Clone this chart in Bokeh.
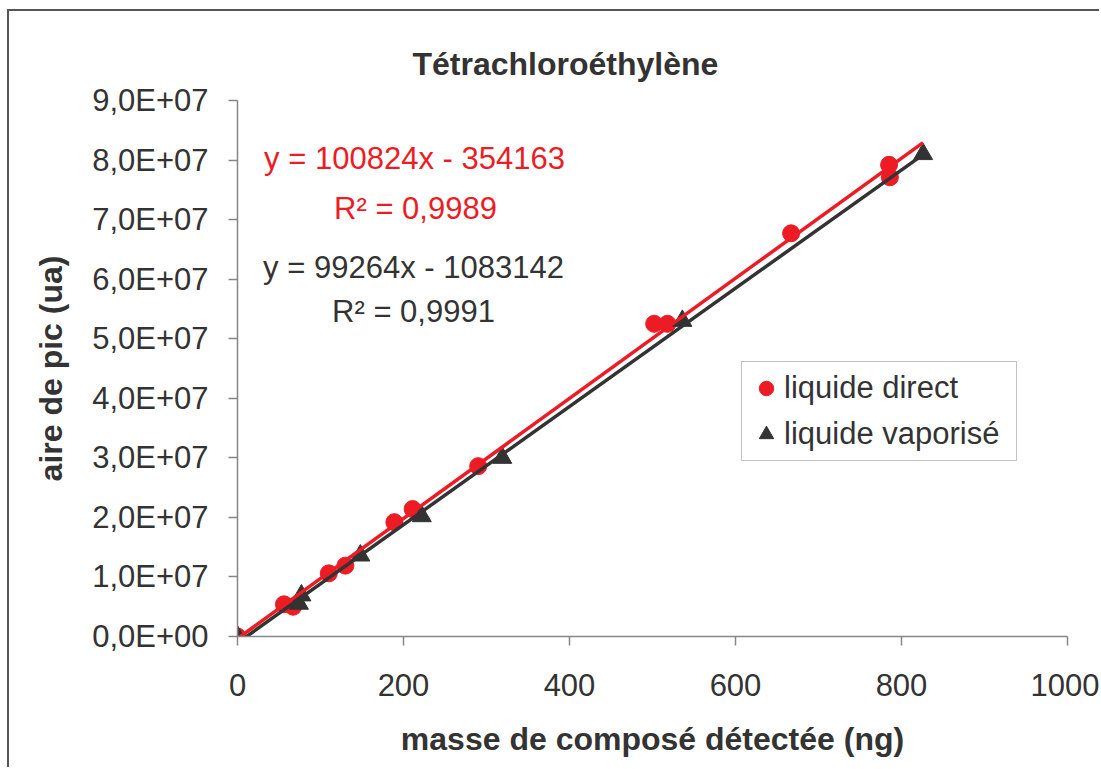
from bokeh.plotting import figure
from bokeh.models import Range1d, FixedTicker, Label, Legend, LegendItem
from bokeh.embed import file_html
from bokeh.resources import INLINE

# ---------------- data ----------------
title_text = "Tétrachloroéthylène"
x_label = "masse de composé détectée (ng)"
y_label = "aire de pic (ua)"

series_names = ["liquide direct", "liquide vaporisé"]

direct_x = [0, 56, 67, 110, 130, 189, 211, 290, 502, 518, 667, 785, 786]
direct_y = [0, 5.4e6, 5.0e6, 1.06e7, 1.19e7, 1.92e7, 2.14e7, 2.86e7, 5.25e7, 5.25e7, 6.77e7, 7.92e7, 7.71e7]

vapor_x = [0, 77, 74, 148, 222, 319, 536, 826]
vapor_y = [0, 6.9e6, 5.5e6, 1.36e7, 2.02e7, 3.0e7, 5.3e7, 8.1e7]

direct_slope = 100824
direct_intercept = -354163
direct_r2 = "0,9989"
vapor_slope = 99264
vapor_intercept = -1083142
vapor_r2 = "0,9991"

x_ticks = [0, 200, 400, 600, 800, 1000]
y_ticks = [0, 10000000, 20000000, 30000000, 40000000, 50000000,
           60000000, 70000000, 80000000, 90000000]
y_tick_labels = ["0,0E+00", "1,0E+07", "2,0E+07", "3,0E+07", "4,0E+07",
                 "5,0E+07", "6,0E+07", "7,0E+07", "8,0E+07", "9,0E+07"]

# ---------------- style ----------------
FONT = "Liberation Sans"
TXT = "#333333"
RED = "#ED1C24"
DARK = "#333333"
AXIS = "#868686"
FS = "31px"
FS_BOLD = "32px"

# canvas offset inside the page (outer chart border drawn with CSS)
OX, OY = 9, 11
W, H = 1101 - OX, 769 - OY

# pixel (page) -> data helpers for annotation positions
def px2x(px):
    return (px - 237) / 0.83

def px2y(py):
    return (636 - py) * 9e7 / 536

p = figure(width=W, height=H,
           x_range=Range1d(0, 1000), y_range=Range1d(0, 9e7),
           output_backend="svg", toolbar_location=None,
           min_border_left=237 - OX, min_border_right=W - (1067 - OX),
           min_border_top=100 - OY, min_border_bottom=H - (636 - OY))
p.styles = {"margin-left": "7px", "margin-top": "9px",
            "border-left": "2px solid #555555", "border-top": "2px solid #555555"}
p.outline_line_color = None
p.grid.visible = False
p.background_fill_color = "white"
p.border_fill_color = "white"

# title
p.title.text = title_text
p.title.align = "left"
p.title.offset = 175
p.title.standoff = 38
p.title.text_font = FONT
p.title.text_font_size = FS_BOLD
p.title.text_font_style = "bold"
p.title.text_color = TXT

# axes
for ax in (p.xaxis[0], p.yaxis[0]):
    ax.axis_line_color = AXIS
    ax.axis_line_width = 1.5
    ax.major_tick_line_color = AXIS
    ax.major_tick_line_width = 1.5
    ax.major_tick_in = 0
    ax.major_tick_out = 9
    ax.minor_tick_line_color = None
    ax.major_label_text_font = FONT
    ax.major_label_text_font_size = FS
    ax.major_label_text_color = TXT
    ax.axis_label_text_font = FONT
    ax.axis_label_text_font_size = FS_BOLD
    ax.axis_label_text_font_style = "bold"
    ax.axis_label_text_color = TXT

p.xaxis.ticker = FixedTicker(ticks=x_ticks)
p.xaxis.axis_label = x_label
p.xaxis.major_label_standoff = 28
p.xaxis.axis_label_standoff = 22

p.yaxis.ticker = FixedTicker(ticks=y_ticks)
p.yaxis.major_label_overrides = {t: l for t, l in zip(y_ticks, y_tick_labels)}
p.yaxis.axis_label = y_label
p.yaxis.major_label_standoff = 20
p.yaxis.axis_label_standoff = 20

# markers
r_direct = p.scatter(direct_x, direct_y, marker="circle", size=17,
                     fill_color=RED, line_color=RED)
r_vapor = p.scatter(vapor_x, vapor_y, marker="triangle", size=19,
                    fill_color=DARK, line_color=DARK)

# trend lines
x_end = max(max(direct_x), max(vapor_x))
line_x = [0, x_end]
p.line(line_x, [direct_slope * x + direct_intercept for x in line_x],
       line_color=RED, line_width=3.5)
p.line(line_x, [vapor_slope * x + vapor_intercept for x in line_x],
       line_color=DARK, line_width=3.5)

# equations
def eq(slope, intercept):
    sign = "-" if intercept < 0 else "+"
    return f"y = {slope}x {sign} {abs(intercept)}"

labels = [
    (eq(direct_slope, direct_intercept), 414, 158, RED),
    (f"R\u00b2 = {direct_r2}", 415, 208, RED),
    (eq(vapor_slope, vapor_intercept), 413, 267, TXT),
    (f"R\u00b2 = {vapor_r2}", 413, 311, TXT),
]
for text, px, py, col in labels:
    p.add_layout(Label(x=px2x(px), y=px2y(py), text=text, text_align="center",
                       text_baseline="alphabetic", text_font=FONT,
                       text_font_size=FS, text_color=col))

# legend
legend = Legend(items=[LegendItem(label=series_names[0], renderers=[r_direct]),
                       LegendItem(label=series_names[1], renderers=[r_vapor])],
                location=(741 - 237, 636 - 461))
legend.label_text_font = FONT
legend.label_text_font_size = FS
legend.label_text_color = TXT
legend.border_line_color = AXIS
legend.border_line_width = 1.5
legend.background_fill_color = "white"
legend.background_fill_alpha = 1
legend.padding = 6
legend.spacing = 6
legend.margin = 0
legend.glyph_width = 36
legend.glyph_height = 40
legend.label_standoff = 0
legend.label_width = 226
p.add_layout(legend, "center")

open("out.html", "w").write(file_html(p, INLINE))
